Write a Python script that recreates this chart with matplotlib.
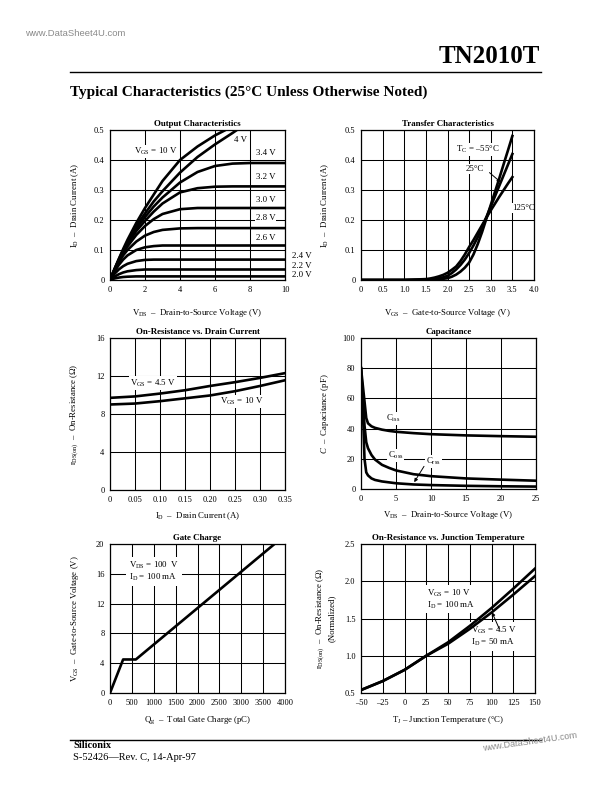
import matplotlib
matplotlib.use("Agg")
import matplotlib.pyplot as plt
from matplotlib.lines import Line2D

plt.rcParams.update({
    "font.family": ["Liberation Serif", "DejaVu Serif"],
    "mathtext.fontset": "custom",
    "mathtext.rm": "Liberation Serif",
    "mathtext.it": "Liberation Serif:italic",
    "mathtext.bf": "Liberation Serif:bold",
    "font.size": 6.4,
    "axes.linewidth": 0.9,
})

# ---- Output characteristics: I_D (A) vs V_DS (V) for each V_GS
VDS_OUT = [0, 0.25, 0.5, 0.75, 1, 1.5, 2, 2.5, 3, 4, 5, 6, 7, 8, 10]
ID_OUT = {
    "10": [0, 0.036, 0.07, 0.103, 0.134, 0.19, 0.24, 0.285, 0.33, 0.40, 0.445, 0.482, 0.512, 0.55, 0.62],
    "4":  [0, 0.035, 0.068, 0.099, 0.128, 0.18, 0.222, 0.262, 0.296, 0.358, 0.41, 0.452, 0.49, 0.53, 0.6],
    "3.4": [0, 0.034, 0.066, 0.096, 0.124, 0.172, 0.21, 0.245, 0.275, 0.325, 0.36, 0.38, 0.388, 0.39, 0.39],
    "3.2": [0, 0.033, 0.064, 0.093, 0.12, 0.163, 0.197, 0.228, 0.255, 0.292, 0.306, 0.311, 0.312, 0.312, 0.312],
    "3.0": [0, 0.032, 0.062, 0.09, 0.112, 0.15, 0.18, 0.203, 0.22, 0.236, 0.24, 0.24, 0.24, 0.24, 0.24],
    "2.8": [0, 0.03, 0.058, 0.082, 0.1, 0.128, 0.148, 0.16, 0.167, 0.172, 0.173, 0.173, 0.173, 0.173, 0.173],
    "2.6": [0, 0.027, 0.05, 0.068, 0.082, 0.1, 0.109, 0.113, 0.115, 0.115, 0.115, 0.115, 0.115, 0.115, 0.115],
    "2.4": [0, 0.02, 0.035, 0.046, 0.054, 0.063, 0.067, 0.068, 0.068, 0.068, 0.068, 0.068, 0.068, 0.068, 0.068],
    "2.2": [0, 0.011, 0.019, 0.025, 0.029, 0.033, 0.035, 0.035, 0.035, 0.035, 0.035, 0.035, 0.035, 0.035, 0.035],
    "2.0": [0, 0.005, 0.008, 0.010, 0.011, 0.012, 0.012, 0.012, 0.012, 0.012, 0.012, 0.012, 0.012, 0.012, 0.012],
}

# ---- Transfer characteristics: I_D (A) vs V_GS (V) at three case temperatures
VGS_TR = [0, 1.0, 1.5, 1.6, 1.7, 1.8, 1.9, 2.0, 2.1, 2.2, 2.3, 2.4, 2.5,
          2.6, 2.7, 2.8, 2.9, 3.0, 3.1, 3.2, 3.3, 3.4, 3.5]
ID_M55 = [0, 0, 0, 0, 0.001, 0.002, 0.004, 0.006, 0.011, 0.018, 0.028, 0.041, 0.058,
          0.085, 0.12, 0.16, 0.205, 0.25, 0.295, 0.34, 0.387, 0.433, 0.48]
ID_25 = [0, 0, 0.001, 0.002, 0.004, 0.006, 0.009, 0.014, 0.023, 0.035, 0.05, 0.068, 0.09,
         0.115, 0.143, 0.175, 0.21, 0.245, 0.28, 0.315, 0.35, 0.385, 0.42]
ID_125 = [0, 0, 0.003, 0.005, 0.008, 0.012, 0.017, 0.024, 0.034, 0.045, 0.063, 0.085, 0.11,
          0.133, 0.158, 0.183, 0.208, 0.232, 0.255, 0.278, 0.3, 0.322, 0.343]

# ---- On-resistance vs drain current
ID_RON = [0, 0.05, 0.10, 0.15, 0.20, 0.25, 0.30, 0.35]
RON_45 = [9.7, 9.85, 10.15, 10.5, 10.95, 11.35, 11.8, 12.3]
RON_10 = [9.0, 9.1, 9.35, 9.65, 9.95, 10.4, 10.95, 11.55]

# ---- Capacitance vs V_DS
VDS_CAP = [0, 0.25, 0.5, 0.75, 1, 1.5, 2, 3, 4, 5, 7.5, 10, 15, 20, 25]
CISS = [80, 69, 58, 47, 43.5, 41.5, 40.5, 39.3, 38.5, 37.9, 37, 36.3, 35.5, 35, 34.6]
COSS = [80, 62, 42, 31, 27, 22.5, 19.5, 16, 14, 12.3, 9.8, 8.5, 7, 6.2, 5.5]
CRSS = [80, 55, 20, 11, 9, 7, 6, 5, 4.4, 3.8, 3, 2.6, 2.1, 1.8, 1.6]

# ---- Gate charge
QG = [0, 300, 590, 3760]
VGS_QG = [0, 4.5, 4.5, 20]

# ---- Normalized on-resistance vs junction temperature
TJ = [-50, -25, 0, 25, 50, 75, 100, 125, 150]
RN_10 = [0.54, 0.66, 0.81, 1.0, 1.18, 1.4, 1.64, 1.9, 2.17]
RN_45 = [0.54, 0.66, 0.81, 1.0, 1.16, 1.36, 1.58, 1.82, 2.07]

W, H = 612, 792
fig = plt.figure(figsize=(W / 100, H / 100), dpi=100)
LW = 1.9
BOX = dict(facecolor="white", edgecolor="none", pad=0.8)
BOX2 = dict(facecolor="white", edgecolor="none", pad=2)
ARROW = dict(arrowstyle="-|>", color="black", lw=0.7, mutation_scale=5,
             shrinkA=0, shrinkB=0)


def px_axes(x0, y0, x1, y1):
    return fig.add_axes([x0 / W, 1 - y1 / H, (x1 - x0) / W, (y1 - y0) / H])


def frame(ax, xlim, ylim, xticks, xtl, yticks, ytl, title, xlabel, ylabel, xoff, yoff):
    ax.set_xlim(xlim)
    ax.set_ylim(ylim)
    ax.set_xticks(xticks)
    ax.set_xticklabels(xtl)
    ax.set_yticks(yticks)
    ax.set_yticklabels(ytl)
    ax.tick_params(length=0, labelsize=6, pad=4)
    ax.grid(True, color="black", lw=0.75)
    ax.set_axisbelow(True)
    ax.set_title(title, fontsize=6.4, fontweight="bold", pad=3)
    ax.set_xlabel(xlabel, fontsize=6.3)
    ax.set_ylabel(ylabel, fontsize=6.3)
    ax.xaxis.set_label_coords(0.5, xoff)
    ax.yaxis.set_label_coords(yoff, 0.5)


def label(ax, x, y, s, box=BOX, **kw):
    # labels sit above the grid but under the curves
    ax.text(x, y, s, va="center", bbox=box, zorder=1.5, **kw)


# Output characteristics
ax = px_axes(110, 130, 285, 280)
for k, v in ID_OUT.items():
    ax.plot(VDS_OUT, v, color="black", lw=LW, solid_capstyle="round")
frame(ax, (0, 10), (0, 0.5), [0, 2, 4, 6, 8, 10], ["0", "2", "4", "6", "8", "10"],
      [0, 0.1, 0.2, 0.3, 0.4, 0.5], ["0", "0.1", "0.2", "0.3", "0.4", "0.5"],
      "Output Characteristics",
      r"V$_{\rm DS}$  –  Drain-to-Source Voltage (V)",
      r"I$_{\rm D}$  –  Drain Current (A)", -0.18, -0.166)
label(ax, 1.35, 0.428, r"V$_{\rm GS}$ = 10 V")
label(ax, 7.1, 0.467, "4 V")
for lab, yy in [("3.4 V", 0.423), ("3.2 V", 0.342), ("3.0 V", 0.268),
                ("2.8 V", 0.207), ("2.6 V", 0.139)]:
    label(ax, 8.33, yy, lab)
for lab, yy in [("2.4 V", 0.08), ("2.2 V", 0.046), ("2.0 V", 0.017)]:
    ax.text(10.38, yy, lab, va="center")

# Transfer characteristics
ax = px_axes(361, 130, 534, 280)
for v in (ID_M55, ID_25, ID_125):
    ax.plot(VGS_TR, v, color="black", lw=LW)
frame(ax, (0, 4), (0, 0.5), [0, 0.5, 1, 1.5, 2, 2.5, 3, 3.5, 4],
      ["0", "0.5", "1.0", "1.5", "2.0", "2.5", "3.0", "3.5", "4.0"],
      [0, 0.1, 0.2, 0.3, 0.4, 0.5], ["0", "0.1", "0.2", "0.3", "0.4", "0.5"],
      "Transfer Characteristics",
      r"V$_{\rm GS}$  –  Gate-to-Source Voltage (V)",
      r"I$_{\rm D}$  –  Drain Current (A)", -0.18, -0.172)
label(ax, 2.2, 0.434, r"T$_{\rm C}$ = –55°C")
label(ax, 2.42, 0.37, "25°C")
ax.annotate("", xy=(3.23, 0.326), xytext=(2.97, 0.358), arrowprops=ARROW)
label(ax, 3.5, 0.24, "125°C")

# On-resistance vs drain current
ax = px_axes(110, 338, 285, 490)
ax.plot(ID_RON, RON_45, color="black", lw=LW)
ax.plot(ID_RON, RON_10, color="black", lw=LW)
frame(ax, (0, 0.35), (0, 16), [0, 0.05, 0.1, 0.15, 0.2, 0.25, 0.3, 0.35],
      ["0", "0.05", "0.10", "0.15", "0.20", "0.25", "0.30", "0.35"],
      [0, 4, 8, 12, 16], ["0", "4", "8", "12", "16"],
      "On-Resistance vs. Drain Current",
      r"I$_{\rm D}$  –  Drain Current (A)",
      r"r$_{\rm DS(on)}$  –  On-Resistance (Ω)", -0.135, -0.166)
label(ax, 0.04, 11.25, r"V$_{\rm GS}$ = 4.5 V")
label(ax, 0.22, 9.35, r"V$_{\rm GS}$ = 10 V")

# Capacitance
ax = px_axes(361, 338, 536, 489)
for v in (CISS, COSS, CRSS):
    ax.plot(VDS_CAP, v, color="black", lw=LW)
frame(ax, (0, 25), (0, 100), [0, 5, 10, 15, 20, 25], ["0", "5", "10", "15", "20", "25"],
      [0, 20, 40, 60, 80, 100], ["0", "20", "40", "60", "80", "100"],
      "Capacitance",
      r"V$_{\rm DS}$  –  Drain-to-Source Voltage (V)",
      r"$C$  –  Capacitance (pF)", -0.135, -0.172)
label(ax, 3.6, 46.5, r"C$_{\rm iss}$")
label(ax, 3.8, 22, r"C$_{\rm oss}$")
label(ax, 9.3, 18, r"C$_{\rm rss}$")
ax.annotate("", xy=(7.6, 4.5), xytext=(9.0, 15.0), arrowprops=ARROW)

# Gate charge
ax = px_axes(110, 544, 285, 693)
ax.plot(QG, VGS_QG, color="black", lw=LW)
frame(ax, (0, 4000), (0, 20), list(range(0, 4001, 500)),
      [str(v) for v in range(0, 4001, 500)],
      [0, 4, 8, 12, 16, 20], ["0", "4", "8", "12", "16", "20"],
      "Gate Charge",
      r"Q$_{\rm g}$  –  Total Gate Charge (pC)",
      r"V$_{\rm GS}$  –  Gate-to-Source Voltage (V)", -0.14, -0.166)
label(ax, 440, 16.3, "V$_{\\rm DS}$ = 100  V\nI$_{\\rm D}$ = 100 mA", box=BOX2,
      linespacing=1.05)

# On-resistance vs junction temperature
ax = px_axes(361, 544, 535, 693)
ax.plot(TJ, RN_10, color="black", lw=LW)
ax.plot(TJ, RN_45, color="black", lw=LW)
frame(ax, (-50, 150), (0.5, 2.5), [-50, -25, 0, 25, 50, 75, 100, 125, 150],
      ["–50", "–25", "0", "25", "50", "75", "100", "125", "150"],
      [0.5, 1.0, 1.5, 2.0, 2.5], ["0.5", "1.0", "1.5", "2.0", "2.5"],
      "On-Resistance vs. Junction Temperature",
      r"T$_{\rm J}$ – Junction Temperature (°C)",
      "r$_{\\rm DS(on)}$  –  On-Resistance (Ω)\n(Normalized)", -0.14, -0.144)
label(ax, 26, 1.76, "V$_{\\rm GS}$ = 10 V\nI$_{\\rm D}$ = 100 mA", box=BOX2,
      linespacing=1.05)
label(ax, 77, 1.26, "V$_{\\rm GS}$ = 4.5 V\nI$_{\\rm D}$ = 50 mA", box=BOX2,
      linespacing=1.05)
ax.annotate("", xy=(100.5, 1.585), xytext=(109, 1.36), arrowprops=ARROW)

# page header / footer
fig.text(25 / W, 1 - 33 / H, "www.DataSheet4U.com", family="Liberation Sans",
         fontsize=6.8, color="#8a8a8a", va="center")
fig.text(540 / W, 1 - 63 / H, "TN2010T", fontsize=18, fontweight="bold",
         ha="right", va="baseline")
fig.add_artist(Line2D([70 / W, 541 / W], [1 - 72 / H, 1 - 72 / H], color="black", lw=1))
fig.text(70 / W, 1 - 92 / H, "Typical Characteristics (25°C Unless Otherwise Noted)",
         fontsize=11, fontweight="bold", va="center")
fig.add_artist(Line2D([70 / W, 541 / W], [1 - 740 / H, 1 - 740 / H], color="black", lw=1))
fig.text(73 / W, 1 - 746 / H, "Siliconix", fontsize=7.5, fontweight="bold", va="center")
fig.text(73 / W, 1 - 757 / H, "S-52426—Rev. C, 14-Apr-97", fontsize=7.5, va="center")
fig.text(530 / W, 1 - 742 / H, "www.DataSheet4U.com", fontsize=6.5, color="#8a8a8a",
         family="Liberation Sans", rotation=8, ha="center", va="center")

fig.savefig("out.png", dpi=100)
